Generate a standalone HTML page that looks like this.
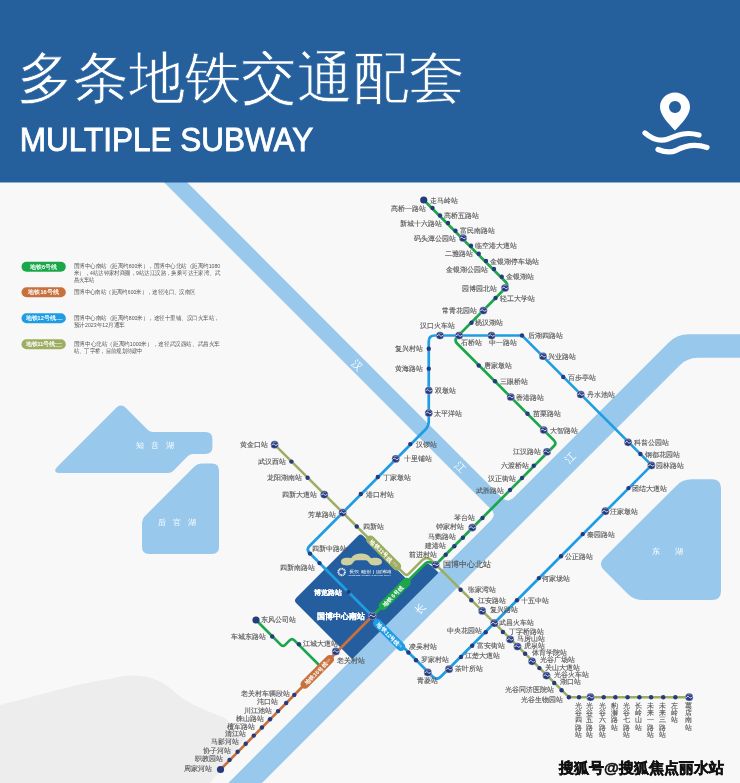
<!DOCTYPE html><html><head><meta charset="utf-8"><style>html,body{margin:0;padding:0;width:740px;height:783px;overflow:hidden;background:#f8f8f8;position:relative}</style></head><body><svg width="740" height="783" viewBox="0 0 740 783" style="position:absolute;left:0;top:0;will-change:transform">
<defs><symbol id="ic" viewBox="-5 -5 10 10"><circle r="3.85" fill="#263a7e" stroke="#dfe4f0" stroke-width="0.35"/><path d="M-3.1,0.6 C-2.0,-1.2 -0.6,-0.9 0,0 C0.6,0.9 2.0,1.2 3.1,-0.6" fill="none" stroke="#e6ebf5" stroke-width="1.0"/><path d="M-1.6,-2.1 C-0.6,-2.8 1.2,-2.6 2.0,-1.6" fill="none" stroke="#c7d0e6" stroke-width="0.5"/></symbol></defs>
<rect x="0" y="182" width="740" height="601" fill="#f8f8f8"/>
<g fill="#ededed">
<path d="M0,705 C40,695 80,683 110,679 C135,672 155,676 170,688 C185,703 205,710 225,718 L245,738 L210,783 L0,783 Z"/>
</g>
<path fill="#98c8ec" d="M116.05,407.95 Q121.00,403.00 125.95,407.95 L147.88,429.88 Q150.00,432.00 153.00,432.00 L205.40,432.00 Q212.40,432.00 212.40,439.00 L212.40,447.00 Q212.40,454.00 205.40,454.00 L193.00,454.00 Q190.00,454.00 187.88,456.12 L173.12,470.88 Q171.00,473.00 168.00,473.00 L61.00,473.00 Q51.00,473.00 58.07,465.93 Z"/>
<path fill="#98c8ec" d="M142.00,523.00 Q142.00,519.00 144.83,516.17 L194.67,466.33 Q197.50,463.50 201.50,463.50 L212.00,463.50 Q219.00,463.50 219.00,470.50 L219.00,547.00 Q219.00,554.00 212.00,554.00 L149.00,554.00 Q142.00,554.00 142.00,547.00 Z"/>
<path fill="#98c8ec" d="M603.66,569.66 Q598.00,564.00 603.66,558.34 L676.34,485.66 Q682.70,479.30 691.70,479.30 L712.00,479.30 Q721.00,479.30 721.00,488.30 L721.00,591.00 Q721.00,600.00 712.00,600.00 L643.00,600.00 Q634.00,600.00 627.64,593.64 Z"/>
<path fill="#98c8ec" d="M163.7,182 L186.8,182 L517.1,512.9 L505.85,524.15 Z"/>
<path fill="#255e9f" d="M296.33,603.33 Q293.50,600.50 296.33,597.67 L358.48,535.52 Q360.60,533.40 362.73,535.51 L407.08,579.59 Q408.50,581.00 409.91,579.59 L424.17,565.33 Q427.00,562.50 429.99,564.74 L431.40,565.80 Q433.00,567.00 434.41,568.41 L443.00,577.00 Q443.00,577.00 443.00,577.00 L361.75,663.09 Q359.00,666.00 356.17,663.17 Z"/>
<path fill="#98c8ec" d="M211.3,800 L669,342.3 Q677.1,334.2 688.6,334.2 L745,334.2 L745,357.8 L698,357.8 Q687.2,357.8 679.6,365.4 L245,800 Z"/>
<path fill="#98c8ec" d="M502.9,498.1 Q507.9,503.1 512.9,498.1 L507.9,505.6 Z"/>
<path fill="#98c8ec" d="M491.35,509.65 Q496.35,514.65 491.35,519.65 L498.85,514.65 Z"/>
<path d="M274.60,444.70 L404.37,573.88 Q406.50,576.00 408.62,573.88 L422.51,559.99 Q426.75,555.75 431.00,559.98 L566.77,695.08 Q568.90,697.20 571.90,697.20 L689.20,697.20" fill="none" stroke="#9dad62" stroke-width="2.5" stroke-linejoin="round" stroke-linecap="round"/>
<path d="M372.4,616 L220.5,769.5" fill="none" stroke="#c8713d" stroke-width="2.7" stroke-linejoin="round" stroke-linecap="round"/>
<path d="M256.00,620.00 L280.88,644.88 Q283.00,647.00 285.12,644.88 L289.88,640.12 Q292.00,638.00 294.12,640.12 L322.00,668.00" fill="none" stroke="#1ba64a" stroke-width="2.7" stroke-linejoin="round" stroke-linecap="round"/>
<path d="M423.75,200.00 L505.77,282.07 Q508.60,284.90 505.78,287.74 L457.32,336.65 Q453.80,340.20 457.34,343.74 L553.97,440.37 Q556.80,443.20 553.98,446.03 L435.60,564.80 Q435.60,564.80 435.60,564.80 L431.58,562.79 Q428.00,561.00 425.16,563.81 L372.40,616.00" fill="none" stroke="#1ba64a" stroke-width="2.7" stroke-linejoin="round" stroke-linecap="round"/>
<path d="M520.00,335.50 Q522.00,335.50 523.41,336.92 L648.72,462.42 Q651.55,465.25 648.73,468.08 L440.99,676.50 Q436.75,680.75 432.52,676.50 L309.53,553.04 Q306.00,549.50 309.53,545.96 L425.22,429.79 Q428.75,426.25 428.75,421.25 L428.75,341.50 Q428.75,335.50 434.75,335.50 Z" fill="none" stroke="#1e9de3" stroke-width="2.7" stroke-linejoin="round" stroke-linecap="round"/>
<g transform="translate(383.65,553) rotate(45)">
<rect x="-23.0" y="-4.3" width="46" height="8.6" rx="4.3" fill="#9dad62"/>
<text x="-18.0" y="0.2" font-size="5.6" font-weight="bold" fill="#fff" dominant-baseline="central" font-family='"Liberation Sans", sans-serif'>地铁11号线</text>
<text x="19.0" y="0.2" font-size="2.6" fill="#fff" text-anchor="end" dominant-baseline="central" font-family='"Liberation Sans", sans-serif'>2023</text>
</g>
<g transform="translate(394.8,593.9) rotate(-45)">
<rect x="-21.0" y="-4.3" width="42" height="8.6" rx="4.3" fill="#1ba64a"/>
<text x="-16.0" y="0.2" font-size="5.6" font-weight="bold" fill="#fff" dominant-baseline="central" font-family='"Liberation Sans", sans-serif'>地铁6号线</text>
</g>
<g transform="translate(389.2,635) rotate(45)">
<rect x="-21.0" y="-4.3" width="42" height="8.6" rx="4.3" fill="#1e9de3"/>
<text x="-16.0" y="0.2" font-size="5.6" font-weight="bold" fill="#fff" dominant-baseline="central" font-family='"Liberation Sans", sans-serif'>地铁12号线</text>
<text x="17.0" y="0.2" font-size="2.6" fill="#fff" text-anchor="end" dominant-baseline="central" font-family='"Liberation Sans", sans-serif'>2023</text>
</g>
<g transform="translate(317.25,671.85) rotate(-45)">
<rect x="-22.0" y="-4.3" width="44" height="8.6" rx="4.3" fill="#c8713d"/>
<text x="-17.0" y="0.2" font-size="5.6" font-weight="bold" fill="#fff" dominant-baseline="central" font-family='"Liberation Sans", sans-serif'>地铁16号线</text>
<text x="18.0" y="0.2" font-size="2.6" fill="#fff" text-anchor="end" dominant-baseline="central" font-family='"Liberation Sans", sans-serif'>2021</text>
</g>
<circle cx="423.75" cy="200" r="3.6" fill="#263a7e"/>
<circle cx="432.5" cy="208" r="2.2" fill="#263a7e"/>
<circle cx="440" cy="215.5" r="2.2" fill="#263a7e"/>
<circle cx="448" cy="223" r="2.2" fill="#263a7e"/>
<circle cx="455.5" cy="230.75" r="2.2" fill="#263a7e"/>
<use href="#ic" x="458" y="233" width="10" height="10"/>
<circle cx="471" cy="245.75" r="2.2" fill="#263a7e"/>
<circle cx="478.75" cy="253.75" r="2.2" fill="#263a7e"/>
<circle cx="486" cy="261" r="2.2" fill="#263a7e"/>
<circle cx="494" cy="269" r="2.2" fill="#263a7e"/>
<circle cx="501.75" cy="276.75" r="2.2" fill="#263a7e"/>
<use href="#ic" x="500" y="283" width="10" height="10"/>
<circle cx="495.5" cy="298" r="2.2" fill="#263a7e"/>
<use href="#ic" x="478.4" y="305.5" width="10" height="10"/>
<circle cx="471.5" cy="322.8" r="2.2" fill="#263a7e"/>
<use href="#ic" x="435" y="330.5" width="10" height="10"/>
<use href="#ic" x="454.1" y="330.5" width="10" height="10"/>
<use href="#ic" x="486.5" y="330.5" width="10" height="10"/>
<circle cx="522" cy="335.5" r="2.2" fill="#263a7e"/>
<use href="#ic" x="538" y="351.25" width="10" height="10"/>
<circle cx="563.25" cy="377" r="2.2" fill="#263a7e"/>
<use href="#ic" x="575.75" y="389.5" width="10" height="10"/>
<circle cx="478.75" cy="365.5" r="2.2" fill="#263a7e"/>
<circle cx="495" cy="381.25" r="2.2" fill="#263a7e"/>
<use href="#ic" x="505.75" y="392" width="10" height="10"/>
<circle cx="527.5" cy="413.75" r="2.2" fill="#263a7e"/>
<use href="#ic" x="538.75" y="425" width="10" height="10"/>
<use href="#ic" x="542" y="446.75" width="10" height="10"/>
<circle cx="533.75" cy="465.75" r="2.2" fill="#263a7e"/>
<circle cx="522" cy="478" r="2.2" fill="#263a7e"/>
<circle cx="510" cy="490" r="2.2" fill="#263a7e"/>
<circle cx="482.5" cy="518" r="2.2" fill="#263a7e"/>
<use href="#ic" x="467.3" y="522.6" width="10" height="10"/>
<circle cx="462.9" cy="537.7" r="2.2" fill="#263a7e"/>
<circle cx="454.3" cy="546.2" r="2.2" fill="#263a7e"/>
<circle cx="445.7" cy="554.8" r="2.2" fill="#263a7e"/>
<use href="#ic" x="430.6" y="559.8" width="10" height="10"/>
<circle cx="428.75" cy="348.75" r="2.2" fill="#263a7e"/>
<circle cx="428.75" cy="368.75" r="2.2" fill="#263a7e"/>
<use href="#ic" x="423.75" y="385.5" width="10" height="10"/>
<use href="#ic" x="423.75" y="408" width="10" height="10"/>
<circle cx="410.3" cy="444.1" r="2.2" fill="#263a7e"/>
<use href="#ic" x="390.7" y="453.9" width="10" height="10"/>
<circle cx="377.8" cy="477" r="2.2" fill="#263a7e"/>
<circle cx="360.8" cy="494" r="2.2" fill="#263a7e"/>
<use href="#ic" x="337.6" y="507.6" width="10" height="10"/>
<circle cx="310" cy="553.6" r="2.2" fill="#263a7e"/>
<circle cx="319.5" cy="563.1" r="2.2" fill="#263a7e"/>
<circle cx="348.5" cy="591.9" r="2.2" fill="#263a7e"/>
<use href="#ic" x="367.4" y="611" width="10" height="10"/>
<circle cx="408.4" cy="652.5" r="2.2" fill="#263a7e"/>
<circle cx="416" cy="660.3" r="2.2" fill="#263a7e"/>
<use href="#ic" x="422.8" y="667.4" width="10" height="10"/>
<use href="#ic" x="444" y="664.2" width="10" height="10"/>
<circle cx="461" cy="657" r="2.2" fill="#263a7e"/>
<circle cx="472.2" cy="645.7" r="2.2" fill="#263a7e"/>
<circle cx="485.7" cy="632.2" r="2.2" fill="#263a7e"/>
<circle cx="517" cy="600.3" r="2.2" fill="#263a7e"/>
<circle cx="538.9" cy="578.1" r="2.2" fill="#263a7e"/>
<circle cx="561" cy="556.2" r="2.2" fill="#263a7e"/>
<circle cx="582.7" cy="534.1" r="2.2" fill="#263a7e"/>
<use href="#ic" x="600.4" y="506.2" width="10" height="10"/>
<circle cx="628.5" cy="488.1" r="2.2" fill="#263a7e"/>
<use href="#ic" x="646.4" y="460.4" width="10" height="10"/>
<circle cx="640.4" cy="454" r="2.2" fill="#263a7e"/>
<use href="#ic" x="623.1" y="437.3" width="10" height="10"/>
<use href="#ic" x="269.6" y="439.7" width="10" height="10"/>
<circle cx="291.4" cy="461.6" r="2.2" fill="#263a7e"/>
<circle cx="307.6" cy="477.8" r="2.2" fill="#263a7e"/>
<use href="#ic" x="319.3" y="489.6" width="10" height="10"/>
<circle cx="356.8" cy="526.5" r="2.2" fill="#263a7e"/>
<circle cx="460.6" cy="589.7" r="2.2" fill="#263a7e"/>
<circle cx="471.3" cy="600.3" r="2.2" fill="#263a7e"/>
<use href="#ic" x="477.2" y="605.9" width="10" height="10"/>
<use href="#ic" x="489.3" y="618.2" width="10" height="10"/>
<circle cx="502.9" cy="632" r="2.2" fill="#263a7e"/>
<use href="#ic" x="505.2" y="634.4" width="10" height="10"/>
<use href="#ic" x="512.5" y="641.5" width="10" height="10"/>
<circle cx="525.1" cy="653.8" r="2.2" fill="#263a7e"/>
<use href="#ic" x="527.1" y="656.3" width="10" height="10"/>
<circle cx="539.4" cy="668.1" r="2.2" fill="#263a7e"/>
<use href="#ic" x="541.5" y="670.6" width="10" height="10"/>
<circle cx="554.2" cy="683" r="2.2" fill="#263a7e"/>
<circle cx="561.6" cy="690.3" r="2.2" fill="#263a7e"/>
<circle cx="568.9" cy="697.2" r="2.2" fill="#263a7e"/>
<circle cx="579" cy="697.2" r="2.2" fill="#263a7e"/>
<use href="#ic" x="585.5" y="692.2" width="10" height="10"/>
<circle cx="603.7" cy="697.2" r="2.2" fill="#263a7e"/>
<circle cx="615.4" cy="697.2" r="2.2" fill="#263a7e"/>
<circle cx="627.6" cy="697.2" r="2.2" fill="#263a7e"/>
<circle cx="639.4" cy="697.2" r="2.2" fill="#263a7e"/>
<circle cx="651.1" cy="697.2" r="2.2" fill="#263a7e"/>
<circle cx="663.2" cy="697.2" r="2.2" fill="#263a7e"/>
<circle cx="675.4" cy="697.2" r="2.2" fill="#263a7e"/>
<use href="#ic" x="684.2" y="692.2" width="10" height="10"/>
<use href="#ic" x="330.8" y="646.4" width="10" height="10"/>
<circle cx="294.3" cy="694.9" r="2.2" fill="#263a7e"/>
<circle cx="286.2" cy="703" r="2.2" fill="#263a7e"/>
<circle cx="278.1" cy="711.1" r="2.2" fill="#263a7e"/>
<circle cx="270" cy="719.2" r="2.2" fill="#263a7e"/>
<circle cx="261.9" cy="727.5" r="2.2" fill="#263a7e"/>
<circle cx="253.8" cy="735.6" r="2.2" fill="#263a7e"/>
<circle cx="245.7" cy="743.7" r="2.2" fill="#263a7e"/>
<circle cx="237.6" cy="751.8" r="2.2" fill="#263a7e"/>
<circle cx="229.5" cy="759.9" r="2.2" fill="#263a7e"/>
<circle cx="220.5" cy="769.5" r="3.6" fill="#263a7e"/>
<circle cx="256" cy="620" r="3.6" fill="#263a7e"/>
<circle cx="272.2" cy="636.5" r="2.2" fill="#263a7e"/>
<circle cx="299" cy="644.3" r="2.2" fill="#263a7e"/>
<g font-family='"Liberation Sans", sans-serif' fill="#555555" stroke="#555555" stroke-width="0.12">
<text x="430" y="200" font-size="7.05" text-anchor="start" dominant-baseline="central">走马岭站</text>
<text x="426" y="208" font-size="7.05" text-anchor="end" dominant-baseline="central">高桥一路站</text>
<text x="444" y="215.5" font-size="7.05" text-anchor="start" dominant-baseline="central">高桥五路站</text>
<text x="441.5" y="223" font-size="7.05" text-anchor="end" dominant-baseline="central">新城十六路站</text>
<text x="459.5" y="230.75" font-size="7.05" text-anchor="start" dominant-baseline="central">富民南路站</text>
<text x="456.25" y="238" font-size="7.05" text-anchor="end" dominant-baseline="central">码头潭公园站</text>
<text x="474.5" y="245.75" font-size="7.05" text-anchor="start" dominant-baseline="central">临空港大道站</text>
<text x="472.5" y="253.75" font-size="7.05" text-anchor="end" dominant-baseline="central">二雅路站</text>
<text x="490" y="261" font-size="7.05" text-anchor="start" dominant-baseline="central">金银湖停车场站</text>
<text x="487.5" y="269" font-size="7.05" text-anchor="end" dominant-baseline="central">金银湖公园站</text>
<text x="505.5" y="276.75" font-size="7.05" text-anchor="start" dominant-baseline="central">金银湖站</text>
<text x="497" y="288" font-size="7.05" text-anchor="end" dominant-baseline="central">园博园北站</text>
<text x="499.5" y="298" font-size="7.05" text-anchor="start" dominant-baseline="central">轻工大学站</text>
<text x="477" y="310.5" font-size="7.05" text-anchor="end" dominant-baseline="central">常青花园站</text>
<text x="474.5" y="322.5" font-size="7.05" text-anchor="start" dominant-baseline="central">杨汉湖站</text>
<text x="437.25" y="325.5" font-size="7.05" text-anchor="middle" dominant-baseline="central">汉口火车站</text>
<text x="471.75" y="342.5" font-size="7.05" text-anchor="middle" dominant-baseline="central">石桥站</text>
<text x="502.9" y="342.5" font-size="7.05" text-anchor="middle" dominant-baseline="central">中一路站</text>
<text x="527.5" y="335.5" font-size="7.05" text-anchor="start" dominant-baseline="central">后湖四路站</text>
<text x="547.5" y="356.25" font-size="7.05" text-anchor="start" dominant-baseline="central">兴业路站</text>
<text x="567.5" y="377" font-size="7.05" text-anchor="start" dominant-baseline="central">百步亭站</text>
<text x="587" y="394.5" font-size="7.05" text-anchor="start" dominant-baseline="central">丹水池站</text>
<text x="483.75" y="365.5" font-size="7.05" text-anchor="start" dominant-baseline="central">唐家墩站</text>
<text x="500" y="381.25" font-size="7.05" text-anchor="start" dominant-baseline="central">三眼桥站</text>
<text x="516.25" y="397" font-size="7.05" text-anchor="start" dominant-baseline="central">香港路站</text>
<text x="532.5" y="413.75" font-size="7.05" text-anchor="start" dominant-baseline="central">苗栗路站</text>
<text x="549.5" y="430" font-size="7.05" text-anchor="start" dominant-baseline="central">大智路站</text>
<text x="541.25" y="451.75" font-size="7.05" text-anchor="end" dominant-baseline="central">江汉路站</text>
<text x="528.75" y="465.75" font-size="7.05" text-anchor="end" dominant-baseline="central">六渡桥站</text>
<text x="516.25" y="478" font-size="7.05" text-anchor="end" dominant-baseline="central">汉正街站</text>
<text x="503.75" y="490" font-size="7.05" text-anchor="end" dominant-baseline="central">武胜路站</text>
<text x="475.3" y="517" font-size="7.05" text-anchor="end" dominant-baseline="central">琴台站</text>
<text x="463.8" y="526.4" font-size="7.05" text-anchor="end" dominant-baseline="central">钟家村站</text>
<text x="456.4" y="536.5" font-size="7.05" text-anchor="end" dominant-baseline="central">马鹦路站</text>
<text x="445.5" y="545.3" font-size="7.05" text-anchor="end" dominant-baseline="central">建港站</text>
<text x="437.4" y="554" font-size="7.05" text-anchor="end" dominant-baseline="central">前进村站</text>
<text x="442.5" y="564.5" font-size="8.2" text-anchor="start" dominant-baseline="central">国博中心北站</text>
<text x="423" y="348.75" font-size="7.05" text-anchor="end" dominant-baseline="central">复兴村站</text>
<text x="423" y="368.75" font-size="7.05" text-anchor="end" dominant-baseline="central">黄海路站</text>
<text x="435" y="390.5" font-size="7.05" text-anchor="start" dominant-baseline="central">双墩站</text>
<text x="433.75" y="413" font-size="7.05" text-anchor="start" dominant-baseline="central">太平洋站</text>
<text x="416" y="444.1" font-size="7.05" text-anchor="start" dominant-baseline="central">汉锣站</text>
<text x="403.8" y="458.9" font-size="7.05" text-anchor="start" dominant-baseline="central">十里铺站</text>
<text x="382.7" y="477" font-size="7.05" text-anchor="start" dominant-baseline="central">丁家墩站</text>
<text x="365.7" y="494" font-size="7.05" text-anchor="start" dominant-baseline="central">港口村站</text>
<text x="336.4" y="514.3" font-size="7.05" text-anchor="end" dominant-baseline="central">芳草路站</text>
<text x="312" y="548.6" font-size="6.5" text-anchor="start" dominant-baseline="central">四新中路站</text>
<text x="315.4" y="567" font-size="7.05" text-anchor="end" dominant-baseline="central">四新南路站</text>
<text x="342.4" y="592.6" font-size="6.9" text-anchor="end" dominant-baseline="central" fill="#ffffff" stroke="#ffffff" font-weight="bold">博览路站</text>
<text x="365.4" y="616.2" font-size="8.4" text-anchor="end" dominant-baseline="central" fill="#ffffff" stroke="#ffffff" font-weight="bold">国博中心南站</text>
<text x="409.2" y="646.5" font-size="7.05" text-anchor="start" dominant-baseline="central">凌吴村站</text>
<text x="421.3" y="659.5" font-size="7.05" text-anchor="start" dominant-baseline="central">罗家村站</text>
<text x="427" y="680.5" font-size="7.05" text-anchor="middle" dominant-baseline="central">青菱站</text>
<text x="454.6" y="668.4" font-size="7.05" text-anchor="start" dominant-baseline="central">茶叶所站</text>
<text x="465" y="655.4" font-size="7.05" text-anchor="start" dominant-baseline="central">江楚大道站</text>
<text x="477.3" y="645.7" font-size="7.05" text-anchor="start" dominant-baseline="central">富安街站</text>
<text x="482.2" y="630.3" font-size="7.05" text-anchor="end" dominant-baseline="central">中央花园站</text>
<text x="521" y="600.3" font-size="7.05" text-anchor="start" dominant-baseline="central">十五中站</text>
<text x="542" y="578" font-size="7.05" text-anchor="start" dominant-baseline="central">何家垅站</text>
<text x="564.7" y="556.2" font-size="7.05" text-anchor="start" dominant-baseline="central">公正路站</text>
<text x="587.4" y="534.1" font-size="7.05" text-anchor="start" dominant-baseline="central">秦园路站</text>
<text x="610" y="511.2" font-size="7.05" text-anchor="start" dominant-baseline="central">汪家墩站</text>
<text x="631.9" y="488.1" font-size="7.05" text-anchor="start" dominant-baseline="central">团结大道站</text>
<text x="655.5" y="465.4" font-size="7.05" text-anchor="start" dominant-baseline="central">园林路站</text>
<text x="645.1" y="454" font-size="7.05" text-anchor="start" dominant-baseline="central">钢都花园站</text>
<text x="633.8" y="442.3" font-size="7.05" text-anchor="start" dominant-baseline="central">科普公园站</text>
<text x="268" y="444.7" font-size="7.05" text-anchor="end" dominant-baseline="central">黄金口站</text>
<text x="285.7" y="461.6" font-size="7.05" text-anchor="end" dominant-baseline="central">武汉西站</text>
<text x="302" y="477.8" font-size="7.05" text-anchor="end" dominant-baseline="central">龙阳湖南站</text>
<text x="316.8" y="494.6" font-size="7.05" text-anchor="end" dominant-baseline="central">四新大道站</text>
<text x="363.2" y="526.2" font-size="7.05" text-anchor="start" dominant-baseline="central">四新站</text>
<text x="467.6" y="589.7" font-size="7.05" text-anchor="start" dominant-baseline="central">张家湾站</text>
<text x="478.1" y="600.1" font-size="7.05" text-anchor="start" dominant-baseline="central">江安路站</text>
<text x="489.5" y="609.7" font-size="7.05" text-anchor="start" dominant-baseline="central">复兴路站</text>
<text x="499.2" y="622.7" font-size="7.05" text-anchor="start" dominant-baseline="central">武昌火车站</text>
<text x="508.9" y="631.3" font-size="7.05" text-anchor="start" dominant-baseline="central">丁字桥路站</text>
<text x="517" y="638" font-size="7.05" text-anchor="start" dominant-baseline="central">马房山站</text>
<text x="524.3" y="645.4" font-size="7.05" text-anchor="start" dominant-baseline="central">虎泉站</text>
<text x="531.6" y="652.7" font-size="7.05" text-anchor="start" dominant-baseline="central">体育学院站</text>
<text x="539.7" y="659.7" font-size="7.05" text-anchor="start" dominant-baseline="central">光谷广场站</text>
<text x="545.4" y="667" font-size="7.05" text-anchor="start" dominant-baseline="central">关山大道站</text>
<text x="553.5" y="674.6" font-size="7.05" text-anchor="start" dominant-baseline="central">光谷火车站</text>
<text x="560" y="681.9" font-size="7.05" text-anchor="start" dominant-baseline="central">湖口站</text>
<text x="553.5" y="689.5" font-size="7.35" text-anchor="end" dominant-baseline="central">光谷同济医院站</text>
<text x="563.2" y="699.5" font-size="7.05" text-anchor="end" dominant-baseline="central">光谷生物园站</text>
<text x="578" y="705.2" font-size="7.05" text-anchor="middle" dominant-baseline="central">光</text>
<text x="578" y="712.5" font-size="7.05" text-anchor="middle" dominant-baseline="central">谷</text>
<text x="578" y="719.8000000000001" font-size="7.05" text-anchor="middle" dominant-baseline="central">四</text>
<text x="578" y="727.1" font-size="7.05" text-anchor="middle" dominant-baseline="central">路</text>
<text x="578" y="734.4000000000001" font-size="7.05" text-anchor="middle" dominant-baseline="central">站</text>
<text x="589.5" y="705.2" font-size="7.05" text-anchor="middle" dominant-baseline="central">光</text>
<text x="589.5" y="712.5" font-size="7.05" text-anchor="middle" dominant-baseline="central">谷</text>
<text x="589.5" y="719.8000000000001" font-size="7.05" text-anchor="middle" dominant-baseline="central">五</text>
<text x="589.5" y="727.1" font-size="7.05" text-anchor="middle" dominant-baseline="central">路</text>
<text x="589.5" y="734.4000000000001" font-size="7.05" text-anchor="middle" dominant-baseline="central">站</text>
<text x="602.7" y="705.2" font-size="7.05" text-anchor="middle" dominant-baseline="central">光</text>
<text x="602.7" y="712.5" font-size="7.05" text-anchor="middle" dominant-baseline="central">谷</text>
<text x="602.7" y="719.8000000000001" font-size="7.05" text-anchor="middle" dominant-baseline="central">六</text>
<text x="602.7" y="727.1" font-size="7.05" text-anchor="middle" dominant-baseline="central">路</text>
<text x="602.7" y="734.4000000000001" font-size="7.05" text-anchor="middle" dominant-baseline="central">站</text>
<text x="614.4" y="705.2" font-size="7.05" text-anchor="middle" dominant-baseline="central">豹</text>
<text x="614.4" y="712.5" font-size="7.05" text-anchor="middle" dominant-baseline="central">澥</text>
<text x="614.4" y="719.8000000000001" font-size="7.05" text-anchor="middle" dominant-baseline="central">路</text>
<text x="614.4" y="727.1" font-size="7.05" text-anchor="middle" dominant-baseline="central">站</text>
<text x="626.6" y="705.2" font-size="7.05" text-anchor="middle" dominant-baseline="central">光</text>
<text x="626.6" y="712.5" font-size="7.05" text-anchor="middle" dominant-baseline="central">谷</text>
<text x="626.6" y="719.8000000000001" font-size="7.05" text-anchor="middle" dominant-baseline="central">七</text>
<text x="626.6" y="727.1" font-size="7.05" text-anchor="middle" dominant-baseline="central">路</text>
<text x="626.6" y="734.4000000000001" font-size="7.05" text-anchor="middle" dominant-baseline="central">站</text>
<text x="638.4" y="705.2" font-size="7.05" text-anchor="middle" dominant-baseline="central">长</text>
<text x="638.4" y="712.5" font-size="7.05" text-anchor="middle" dominant-baseline="central">岭</text>
<text x="638.4" y="719.8000000000001" font-size="7.05" text-anchor="middle" dominant-baseline="central">山</text>
<text x="638.4" y="727.1" font-size="7.05" text-anchor="middle" dominant-baseline="central">站</text>
<text x="650.1" y="705.2" font-size="7.05" text-anchor="middle" dominant-baseline="central">未</text>
<text x="650.1" y="712.5" font-size="7.05" text-anchor="middle" dominant-baseline="central">来</text>
<text x="650.1" y="719.8000000000001" font-size="7.05" text-anchor="middle" dominant-baseline="central">一</text>
<text x="650.1" y="727.1" font-size="7.05" text-anchor="middle" dominant-baseline="central">路</text>
<text x="650.1" y="734.4000000000001" font-size="7.05" text-anchor="middle" dominant-baseline="central">站</text>
<text x="662.2" y="705.2" font-size="7.05" text-anchor="middle" dominant-baseline="central">未</text>
<text x="662.2" y="712.5" font-size="7.05" text-anchor="middle" dominant-baseline="central">来</text>
<text x="662.2" y="719.8000000000001" font-size="7.05" text-anchor="middle" dominant-baseline="central">三</text>
<text x="662.2" y="727.1" font-size="7.05" text-anchor="middle" dominant-baseline="central">路</text>
<text x="662.2" y="734.4000000000001" font-size="7.05" text-anchor="middle" dominant-baseline="central">站</text>
<text x="674.4" y="705.2" font-size="7.05" text-anchor="middle" dominant-baseline="central">左</text>
<text x="674.4" y="712.5" font-size="7.05" text-anchor="middle" dominant-baseline="central">岭</text>
<text x="674.4" y="719.8000000000001" font-size="7.05" text-anchor="middle" dominant-baseline="central">站</text>
<text x="688.2" y="705.2" font-size="7.05" text-anchor="middle" dominant-baseline="central">葛</text>
<text x="688.2" y="712.5" font-size="7.05" text-anchor="middle" dominant-baseline="central">店</text>
<text x="688.2" y="719.8000000000001" font-size="7.05" text-anchor="middle" dominant-baseline="central">南</text>
<text x="688.2" y="727.1" font-size="7.05" text-anchor="middle" dominant-baseline="central">站</text>
<text x="337" y="660.8" font-size="7.05" text-anchor="start" dominant-baseline="central">老关村站</text>
<text x="289.7" y="693.3" font-size="7.05" text-anchor="end" dominant-baseline="central">老关村车辆段站</text>
<text x="277.6" y="701.9" font-size="7.05" text-anchor="end" dominant-baseline="central">沌口站</text>
<text x="272.4" y="710" font-size="7.05" text-anchor="end" dominant-baseline="central">川江池站</text>
<text x="263.5" y="718.1" font-size="7.05" text-anchor="end" dominant-baseline="central">株山路站</text>
<text x="255.4" y="726.2" font-size="7.05" text-anchor="end" dominant-baseline="central">檀军路站</text>
<text x="246.2" y="733.5" font-size="7.05" text-anchor="end" dominant-baseline="central">清江站</text>
<text x="239.2" y="741.6" font-size="7.05" text-anchor="end" dominant-baseline="central">马影河站</text>
<text x="231.1" y="750" font-size="7.05" text-anchor="end" dominant-baseline="central">协子河站</text>
<text x="222.5" y="758.2" font-size="7.05" text-anchor="end" dominant-baseline="central">职教园站</text>
<text x="212.4" y="768.4" font-size="7.05" text-anchor="end" dominant-baseline="central">周家河站</text>
<text x="260.5" y="619.2" font-size="7.05" text-anchor="start" dominant-baseline="central">东风公司站</text>
<text x="266.2" y="636" font-size="7.05" text-anchor="end" dominant-baseline="central">车城东路站</text>
<text x="302.7" y="643.5" font-size="7.05" text-anchor="start" dominant-baseline="central">江城大道站</text>
</g>
<g font-family='"Liberation Sans", sans-serif' fill="#ffffff">
<text x="358" y="365" font-size="10.5" text-anchor="middle" dominant-baseline="central" transform="rotate(45 358 365)">汉</text>
<text x="461" y="467" font-size="10.5" text-anchor="middle" dominant-baseline="central" transform="rotate(45 461 467)">江</text>
<text x="570" y="457.5" font-size="10.5" text-anchor="middle" dominant-baseline="central" transform="rotate(-45 570 457.5)">江</text>
<text x="420" y="608" font-size="10.5" text-anchor="middle" dominant-baseline="central" transform="rotate(-45 420 608)">长</text>
<text x="158" y="445.4" font-size="7.6" text-anchor="middle" dominant-baseline="central" letter-spacing="7">知音湖</text>
<text x="180" y="522.4" font-size="7.6" text-anchor="middle" dominant-baseline="central" letter-spacing="7">后官湖</text>
<text x="655.9" y="551.2" font-size="8.4" text-anchor="middle" dominant-baseline="central">东</text>
<text x="679.2" y="551.2" font-size="8.4" text-anchor="middle" dominant-baseline="central">湖</text>
</g>
<g>
<path d="M341,562 C341,558 346,557.2 351,558.3 C353,555 357,553.6 361,553.6 C365,553.6 369,555 371,558.3 C376,557.2 382,558 382,562 C382,565.5 376,566 371,564.8 C369,563.5 368.5,561 366,560.2 L356,560.2 C353.5,561 353,563.5 351,564.8 C346,566 341,565.5 341,562 Z" fill="#cfd09f"/>
<circle cx="341.7" cy="572" r="3.3" fill="none" stroke="#fff" stroke-width="1.9" stroke-dasharray="1 0.55"/>
<text x="348.5" y="571.1" font-size="4.2" fill="#fff" dominant-baseline="central" font-family='"Liberation Sans", sans-serif' textLength="43" lengthAdjust="spacingAndGlyphs">長投 融创 | 国博城</text>
<text x="348.5" y="574.9" font-size="1.8" fill="#fff" dominant-baseline="central" font-family='"Liberation Sans", sans-serif' textLength="42.5" lengthAdjust="spacingAndGlyphs">INTERNATIONAL EXPO CITY</text>
</g>
<g font-family='"Liberation Sans", sans-serif'>
<rect x="21.5" y="261.7" width="44.3" height="10" rx="5" fill="#1ba64a"/>
<text x="43.5" y="266.8" font-size="5.5" fill="#fff" stroke="#fff" stroke-width="0.15" text-anchor="middle" dominant-baseline="central">地铁6号线</text>
<text x="73.8" y="266.3" font-size="5.6" fill="#555" dominant-baseline="central" textLength="146.3" lengthAdjust="spacingAndGlyphs">国博中心南站（距离约600米），国博中心北站（距离约1080</text>
<text x="73.8" y="273.3" font-size="5.6" fill="#555" dominant-baseline="central" textLength="146.3" lengthAdjust="spacingAndGlyphs">米），4站达钟家村商圈，9站达江汉路，换乘可达王家湾、武</text>
<text x="73.8" y="280.3" font-size="5.6" fill="#555" dominant-baseline="central" textLength="20.9" lengthAdjust="spacingAndGlyphs">昌火车站</text>
<rect x="21.5" y="287.2" width="44.3" height="10" rx="5" fill="#c8713d"/>
<text x="43.5" y="292.3" font-size="5.5" fill="#fff" stroke="#fff" stroke-width="0.15" text-anchor="middle" dominant-baseline="central">地铁16号线</text>
<text x="73.8" y="291.8" font-size="5.6" fill="#555" dominant-baseline="central" textLength="121.9" lengthAdjust="spacingAndGlyphs">国博中心南站（距离约600米），途径沌口、汉南区</text>
<rect x="21.5" y="313.2" width="44.3" height="10" rx="5" fill="#1e9de3"/>
<text x="25.6" y="318.3" font-size="5.5" fill="#fff" stroke="#fff" stroke-width="0.15" dominant-baseline="central">地铁12号线</text>
<text x="54" y="318.6" font-size="2.3" fill="#fff" dominant-baseline="central" textLength="8.8" lengthAdjust="spacingAndGlyphs">(2023)</text>
<text x="73.8" y="317.8" font-size="5.6" fill="#555" dominant-baseline="central" textLength="146.2" lengthAdjust="spacingAndGlyphs">国博中心南站（距离约800米），途径十里铺、汉口火车站，</text>
<text x="73.8" y="324.8" font-size="5.6" fill="#555" dominant-baseline="central" textLength="51.2" lengthAdjust="spacingAndGlyphs">预计2023年12月通车</text>
<rect x="21.5" y="339.2" width="44.3" height="10" rx="5" fill="#9dad62"/>
<text x="25.6" y="344.3" font-size="5.5" fill="#fff" stroke="#fff" stroke-width="0.15" dominant-baseline="central">地铁11号线</text>
<text x="54" y="343.3" font-size="2.0" fill="#fff" dominant-baseline="central" textLength="8" lengthAdjust="spacingAndGlyphs">2023</text>
<text x="54" y="345.6" font-size="2.0" fill="#fff" dominant-baseline="central" textLength="8" lengthAdjust="spacingAndGlyphs">planning</text>
<text x="73.8" y="343.8" font-size="5.6" fill="#555" dominant-baseline="central" textLength="146.2" lengthAdjust="spacingAndGlyphs">国博中心北站（距离约1000米），途径武汉西站、武昌火车</text>
<text x="73.8" y="350.8" font-size="5.6" fill="#555" dominant-baseline="central" textLength="69.0" lengthAdjust="spacingAndGlyphs">站、丁字桥，目前规划待建中</text>
</g>
<rect x="0" y="0" width="740" height="182.5" fill="#25609d"/>
<text x="17" y="96.5" font-size="56" fill="#fff" stroke="#25609d" stroke-width="0.7" font-family='"Liberation Sans", sans-serif'>多条地铁交通配套</text>
<text x="19.8" y="150.8" font-size="33.5" fill="#fff" stroke="#fff" stroke-width="0.9" font-family='"Liberation Sans", sans-serif' textLength="293.5" lengthAdjust="spacingAndGlyphs">MULTIPLE SUBWAY</text>
<g fill="#fff">
<path d="M675,92.5 C683.5,92.5 690,99 690,107 C690,115 682,123 675,130.5 C668,123 660,115 660,107 C660,99 666.5,92.5 675,92.5 Z M675,101 A6,6 0 1 0 675.01,101 Z" fill-rule="evenodd"/>
</g>
<g fill="none" stroke="#fff" stroke-width="5.2" stroke-linecap="round">
<path d="M645,133 C652,139 660,142 668,139 C676,136 684,131 699,135"/>
<path d="M658,149.5 C664,152 670,153 676,150.5 C684,146 694,143 707,147.5"/>
</g>
<text x="559" y="767.2" font-size="15.2" font-weight="900" fill="#fff" font-family='"Liberation Sans", sans-serif' dominant-baseline="central" transform="translate(0.8,0.8)">搜狐号@搜狐焦点丽水站</text>
<text x="559" y="767.2" font-size="15.2" font-weight="900" fill="#111" stroke="#111" stroke-width="0.5" font-family='"Liberation Sans", sans-serif' dominant-baseline="central">搜狐号@搜狐焦点丽水站</text>
</svg></body></html>
